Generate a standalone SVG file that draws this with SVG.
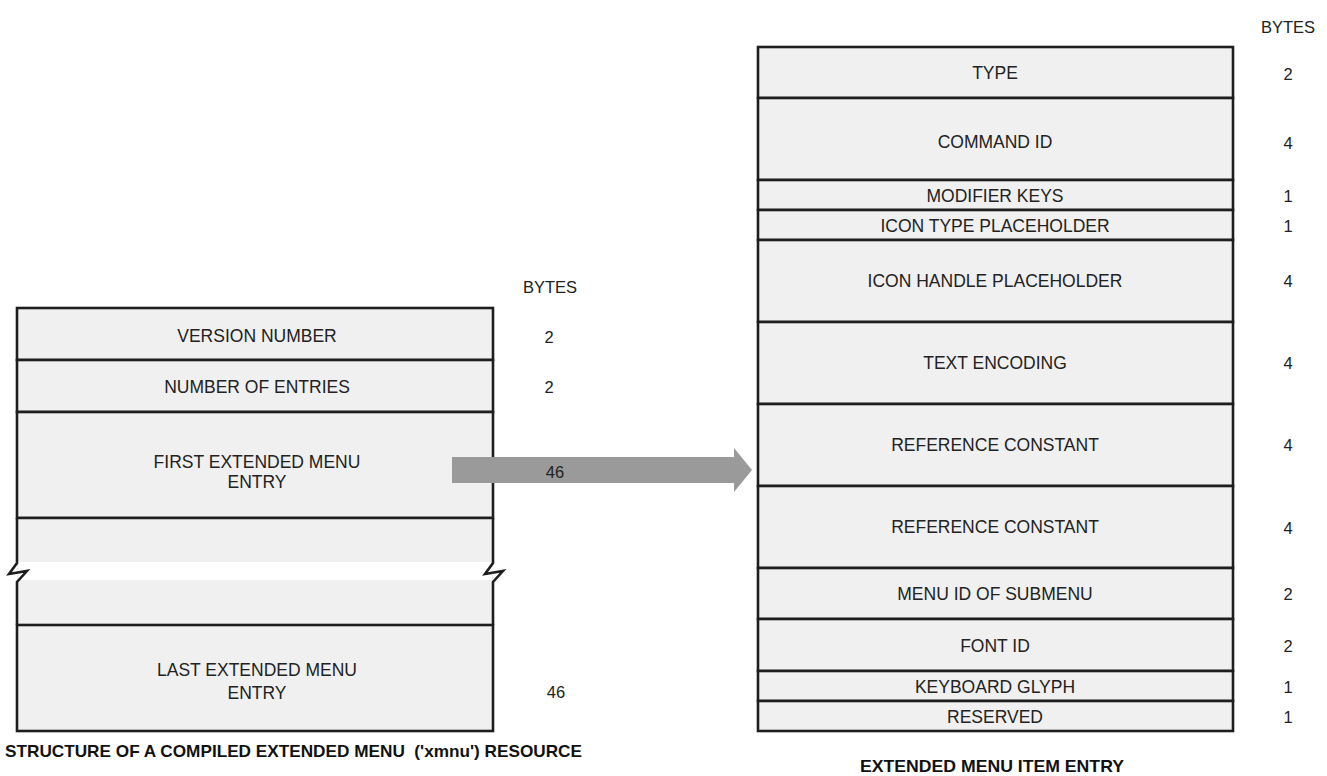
<svg xmlns="http://www.w3.org/2000/svg" width="1327" height="776" viewBox="0 0 1327 776">
<style>
.cell{fill:#f0f0f0;stroke:#1e1e1e;stroke-width:2.6}
.t{font-family:"Liberation Sans",Arial,sans-serif;font-size:17.5px;fill:#222;text-anchor:middle;dominant-baseline:central}
.n{font-family:"Liberation Sans",Arial,sans-serif;font-size:16.5px;fill:#222;text-anchor:middle;dominant-baseline:central}
.cap{font-family:"Liberation Sans",Arial,sans-serif;font-size:17px;font-weight:bold;fill:#111;dominant-baseline:central}
.brk{fill:none;stroke:#1e1e1e;stroke-width:2.6}
</style>
<rect width="1327" height="776" fill="#fff"/>

<!-- Left structure -->
<g id="left-structure">
  <text class="n" x="550" y="287">BYTES</text>
  <g id="version-number">
    <rect class="cell" x="17" y="308" width="476" height="52"/>
    <text class="t" x="257" y="336">VERSION NUMBER</text>
    <text class="n" x="549" y="337">2</text>
  </g>
  <g id="number-of-entries">
    <rect class="cell" x="17" y="360" width="476" height="52"/>
    <text class="t" x="257" y="387">NUMBER OF ENTRIES</text>
    <text class="n" x="549" y="387">2</text>
  </g>
  <g id="first-entry">
    <rect class="cell" x="17" y="412" width="476" height="106"/>
    <text class="t" x="257" y="462">FIRST EXTENDED MENU</text>
    <text class="t" x="257" y="482">ENTRY</text>
  </g>
  <g id="middle-entries">
    <rect x="17" y="518" width="476" height="107" fill="#f0f0f0"/>
    <rect x="18.3" y="562" width="473.4" height="18" fill="#fff"/>
    <line class="brk" x1="17" y1="518" x2="493" y2="518"/>
    <path class="brk" d="M17,518 L17,563 L9,574 L27,571 L17,582 L17,625"/>
    <path class="brk" d="M493,518 L493,563 L485,574 L503,571 L493,582 L493,625"/>
  </g>
  <g id="last-entry">
    <rect class="cell" x="17" y="625" width="476" height="106"/>
    <text class="t" x="257" y="670">LAST EXTENDED MENU</text>
    <text class="t" x="257" y="693">ENTRY</text>
    <text class="n" x="556" y="692">46</text>
  </g>
  <text class="cap" x="5" y="751" xml:space="preserve" textLength="577" lengthAdjust="spacingAndGlyphs">STRUCTURE OF A COMPILED EXTENDED MENU  ('xmnu') RESOURCE</text>
</g>

<!-- Connector -->
<g id="connectors">
  <polygon points="452,457 734,457 734,448 752,470 734,492 734,483 452,483" fill="#9a9a9a"/>
  <text class="n" x="555" y="472">46</text>
</g>

<!-- Right structure -->
<g id="right-structure">
  <text class="n" x="1288" y="27">BYTES</text>
  <g id="type"><rect class="cell" x="758" y="47" width="475" height="51"/><text class="t" x="995" y="73">TYPE</text><text class="n" x="1288" y="74">2</text></g>
  <g id="command-id"><rect class="cell" x="758" y="98" width="475" height="82"/><text class="t" x="995" y="142">COMMAND ID</text><text class="n" x="1288" y="143">4</text></g>
  <g id="modifier-keys"><rect class="cell" x="758" y="180" width="475" height="30"/><text class="t" x="995" y="196">MODIFIER KEYS</text><text class="n" x="1288" y="196">1</text></g>
  <g id="icon-type"><rect class="cell" x="758" y="210" width="475" height="30"/><text class="t" x="995" y="226">ICON TYPE PLACEHOLDER</text><text class="n" x="1288" y="226">1</text></g>
  <g id="icon-handle"><rect class="cell" x="758" y="240" width="475" height="82"/><text class="t" x="995" y="281">ICON HANDLE PLACEHOLDER</text><text class="n" x="1288" y="281">4</text></g>
  <g id="text-encoding"><rect class="cell" x="758" y="322" width="475" height="82"/><text class="t" x="995" y="363">TEXT ENCODING</text><text class="n" x="1288" y="363">4</text></g>
  <g id="ref-constant-1"><rect class="cell" x="758" y="404" width="475" height="82"/><text class="t" x="995" y="445">REFERENCE CONSTANT</text><text class="n" x="1288" y="445">4</text></g>
  <g id="ref-constant-2"><rect class="cell" x="758" y="486" width="475" height="82"/><text class="t" x="995" y="527">REFERENCE CONSTANT</text><text class="n" x="1288" y="528">4</text></g>
  <g id="menu-id"><rect class="cell" x="758" y="568" width="475" height="51"/><text class="t" x="995" y="594">MENU ID OF SUBMENU</text><text class="n" x="1288" y="594">2</text></g>
  <g id="font-id"><rect class="cell" x="758" y="619" width="475" height="52"/><text class="t" x="995" y="646">FONT ID</text><text class="n" x="1288" y="646">2</text></g>
  <g id="keyboard-glyph"><rect class="cell" x="758" y="671" width="475" height="30"/><text class="t" x="995" y="687">KEYBOARD GLYPH</text><text class="n" x="1288" y="687">1</text></g>
  <g id="reserved"><rect class="cell" x="758" y="701" width="475" height="30"/><text class="t" x="995" y="717">RESERVED</text><text class="n" x="1288" y="717">1</text></g>
  <text class="cap" x="992" y="766" text-anchor="middle" textLength="264" lengthAdjust="spacingAndGlyphs">EXTENDED MENU ITEM ENTRY</text>
</g>
</svg>
